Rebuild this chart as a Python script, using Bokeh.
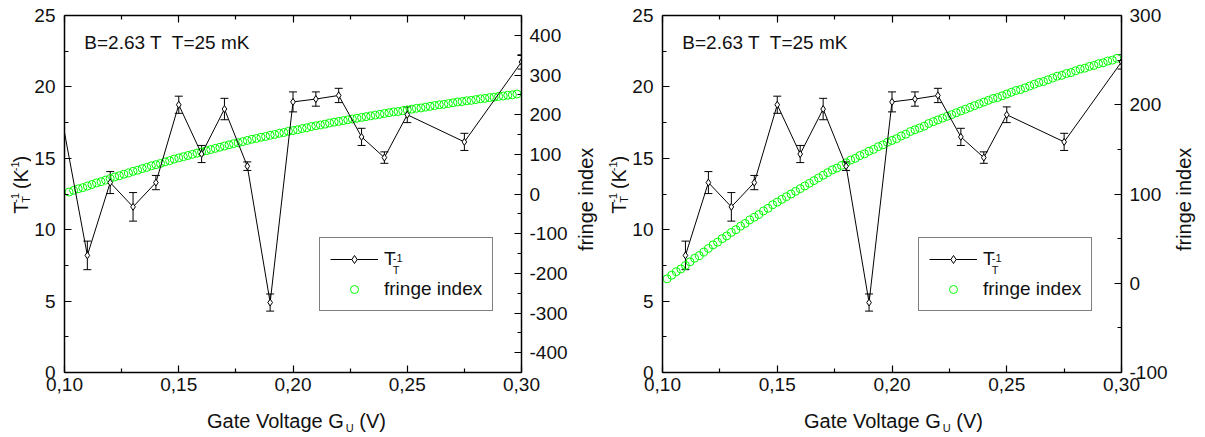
import math
from bokeh.plotting import figure
from bokeh.models import (Range1d, LinearAxis, FixedTicker, CustomJSTickFormatter, Grid,
                          ColumnDataSource, Whisker, TeeHead, Label, Legend, LegendItem)
from bokeh.layouts import row, column
from bokeh.embed import file_html
from bokeh.resources import INLINE

# ---------------- data ----------------
gate_voltage = [0.11, 0.12, 0.13, 0.14, 0.15, 0.16, 0.17, 0.18, 0.19, 0.20,
                0.21, 0.22, 0.23, 0.24, 0.25, 0.275, 0.30]
inv_temp = [8.2, 13.3, 11.6, 13.3, 18.75, 15.3, 18.45, 14.45, 4.9, 18.95,
            19.15, 19.4, 16.5, 15.05, 18.05, 16.15, 21.75]
inv_temp_err = [1.0, 0.77, 1.0, 0.5, 0.6, 0.6, 0.75, 0.3, 0.6, 0.7,
                0.5, 0.5, 0.6, 0.4, 0.55, 0.6, 0.5]
# left panel: the curve enters from a point outside the window
lead_in_voltage = [0.10, 0.11]
lead_in_value = [16.8, 8.2]

fringe_start = 0.102
fringe_step = 0.002
fringe_index = [5, 9, 13, 16, 20, 24, 28, 31, 35, 39,
                43, 46, 50, 53, 57, 60, 64, 67, 71, 74,
                77, 81, 84, 88, 91, 94, 97, 100, 103, 106,
                109, 112, 115, 118, 121, 124, 127, 129, 132, 135,
                138, 140, 143, 145, 148, 150, 153, 155, 158, 160,
                162, 165, 167, 170, 172, 174, 176, 179, 181, 183,
                185, 187, 189, 191, 193, 195, 197, 199, 201, 203,
                205, 207, 208, 210, 212, 214, 216, 217, 219, 221,
                223, 225, 226, 228, 230, 232, 233, 235, 236, 238,
                240, 241, 243, 244, 246, 247, 249, 250, 252]
fringe_voltage = [round(fringe_start + fringe_step * i, 3) for i in range(len(fringe_index))]

x_ticks = [0.10, 0.15, 0.20, 0.25, 0.30]
x_minor = [0.125, 0.175, 0.225, 0.275]
x_tick_labels = ["0,10", "0,15", "0,20", "0,25", "0,30"]
y_ticks = [0, 5, 10, 15, 20, 25]
y_minor = [2.5, 7.5, 12.5, 17.5, 22.5]
y_tick_labels = ["0", "5", "10", "15", "20", "25"]
fr1_ticks = [-400, -300, -200, -100, 0, 100, 200, 300, 400]
fr1_minor = [-450, -350, -250, -150, -50, 50, 150, 250, 350, 450]
fr1_labels = ["-400", "-300", "-200", "-100", "0", "100", "200", "300", "400"]
fr2_ticks = [-100, 0, 100, 200, 300]
fr2_minor = [-50, 50, 150, 250]
fr2_labels = ["-100", "0", "100", "200", "300"]

annotation_text = "B=2.63 T \u00a0T=25 mK"

# ---------------- style ----------------
FONT = "Liberation Sans"
FS = 19        # tick labels, legend, annotation
TS = 20        # axis titles
SMALL = 11     # sub/superscripts
GREEN = "#00FF00"
INK = "#111111"

AW = {' ': 278, '(': 333, ')': 333, '-': 333, '1': 556, 'K': 667, 'T': 611,
      'G': 778, 'U': 722, 'V': 667, 'a': 556, 'e': 556, 't': 278, 'o': 556,
      'l': 222, 'g': 556}


def tw(s, size):
    return sum(AW.get(c, 556) for c in s) * size / 1000.0


def fmt(tick_values, tick_labels):
    return CustomJSTickFormatter(args=dict(tv=tick_values, tl=tick_labels), code="""
        let best = 0;
        for (let i = 0; i < tv.length; i++) {
            if (Math.abs(tv[i] - tick) < Math.abs(tv[best] - tick)) best = i;
        }
        return tl[best];
    """)


def style_axis(ax, show_labels=True, standoff=8):
    ax.axis_line_width = 1.5
    ax.axis_line_color = "black"
    ax.major_tick_in = 7
    ax.major_tick_out = 0
    ax.minor_tick_in = 4
    ax.minor_tick_out = 0
    ax.major_tick_line_color = "black"
    ax.minor_tick_line_color = "black"
    ax.major_tick_line_width = 1.2
    ax.minor_tick_line_width = 1.2
    ax.major_label_text_font = FONT
    ax.major_label_text_color = INK
    ax.major_label_text_font_size = f"{FS}px"
    ax.major_label_standoff = standoff
    if not show_labels:
        ax.formatter = CustomJSTickFormatter(code="return ''")
        ax.major_label_standoff = 0


def bare(f):
    f.outline_line_color = None
    f.background_fill_color = "white"
    f.border_fill_color = "white"
    for r in list(f.center):
        if isinstance(r, Grid):
            r.visible = False


class Geom:
    def __init__(self, fl, fr, ft, fb, x0, x1, y0, y1):
        self.fl, self.fr, self.ft, self.fb = fl, fr, ft, fb
        self.x0, self.x1, self.y0, self.y1 = x0, x1, y0, y1

    def data(self, px, py):
        x = self.x0 + (px - self.fl) / (self.fr - self.fl) * (self.x1 - self.x0)
        y = self.y0 + (self.fb - py) / (self.fb - self.ft) * (self.y1 - self.y0)
        return x, y


def label(x, y, text, size, align="left", angle=0.0):
    return Label(x=x, y=y, text=text, text_font=FONT, text_font_size=f"{size}px",
                 text_color=INK, text_align=align, text_baseline="middle", angle=angle)


def text_fig(left, top, width, height, entries):
    """a small figure whose frame is its whole canvas; data units == page pixels"""
    f = figure(width=width, height=height, output_backend="svg", toolbar_location=None,
               x_range=Range1d(left, left + width), y_range=Range1d(top + height, top),
               x_axis_location=None, y_axis_location=None,
               min_border_left=0, min_border_right=0, min_border_top=0, min_border_bottom=0)
    bare(f)
    for e in entries:
        f.add_layout(label(*e))
    return f


def y_title_entries(cx, cy):
    groups = [[("T", TS, 0)],
              [("T", SMALL, 5), ("-1", SMALL, -6)],
              [(" ", TS, 0)],
              [("(K", TS, 0)],
              [("-1", SMALL, -6)],
              [(")", TS, 0)]]
    total = sum(max(tw(t, s) for t, s, _ in g) for g in groups)
    pos = cy + total / 2
    out = []
    for g in groups:
        adv = 0
        for t, s, sh in g:
            if t.strip():
                out.append((cx + sh, pos, t, s, "left", math.pi / 2))
            adv = max(adv, tw(t, s))
        pos -= adv
    return out


def x_title_entries(cx, cy):
    w_main = tw("Gate Voltage G", TS)
    w_sub = tw("U", SMALL)
    w_tail = tw(" (V)", TS)
    start = cx - (w_main + 1 + w_sub + w_tail) / 2
    return [(start, cy, "Gate Voltage G", TS, "left", 0.0),
            (start + w_main + 1, cy + 7, "U", SMALL, "left", 0.0),
            (start + w_main + 1 + w_sub + tw(" ", TS), cy, "(V)", TS, "left", 0.0)]


def make_main(width, bl, br, g, fr_range, fr_ticks, fr_minor, fr_labels, lead_in, legend_loc):
    p = figure(width=width, height=400, output_backend="svg", toolbar_location=None,
               x_range=Range1d(0.10, 0.30), y_range=Range1d(0, 25),
               x_axis_location=None, y_axis_location=None,
               min_border_left=bl, min_border_right=br, min_border_top=15, min_border_bottom=28)
    p.extra_y_ranges = {"fringe": Range1d(*fr_range)}
    bare(p)

    bottom = LinearAxis(ticker=FixedTicker(ticks=x_ticks, minor_ticks=x_minor),
                        formatter=fmt(x_ticks, x_tick_labels))
    top = LinearAxis(ticker=FixedTicker(ticks=x_ticks, minor_ticks=x_minor))
    left = LinearAxis(ticker=FixedTicker(ticks=y_ticks, minor_ticks=y_minor),
                      formatter=fmt(y_ticks, y_tick_labels))
    right = LinearAxis(y_range_name="fringe",
                       ticker=FixedTicker(ticks=fr_ticks, minor_ticks=fr_minor),
                       formatter=fmt(fr_ticks, fr_labels))
    style_axis(bottom, standoff=5)
    style_axis(top, False)
    style_axis(left, standoff=9)
    style_axis(right, standoff=8)
    p.add_layout(bottom, "below")
    p.add_layout(top, "above")
    p.add_layout(left, "left")
    p.add_layout(right, "right")

    # fringe index
    fsrc = ColumnDataSource(dict(x=fringe_voltage, y=fringe_index))
    fr_r = p.scatter("x", "y", source=fsrc, y_range_name="fringe", marker="circle", size=8,
                     fill_color=None, line_color=GREEN, line_width=1)

    # inverse temperature
    lower = [v - e for v, e in zip(inv_temp, inv_temp_err)]
    upper = [v + e for v, e in zip(inv_temp, inv_temp_err)]
    src = ColumnDataSource(dict(x=gate_voltage, y=inv_temp, lower=lower, upper=upper))
    if lead_in:
        p.line(lead_in_voltage, lead_in_value, line_color="black", line_width=1)
    line_r = p.line("x", "y", source=src, line_color="black", line_width=1)
    p.add_layout(Whisker(source=src, base="x", lower="lower", upper="upper",
                         line_color="black", line_width=1,
                         upper_head=TeeHead(size=8, line_color="black", line_width=1),
                         lower_head=TeeHead(size=8, line_color="black", line_width=1)))
    mark_r = p.scatter("x", "y", source=src, marker="diamond", size=7,
                       fill_color="white", line_color="black", line_width=1)

    legend = Legend(items=[LegendItem(label="T", renderers=[line_r, mark_r]),
                           LegendItem(label="fringe index", renderers=[fr_r])],
                    location=legend_loc, padding=10, spacing=8, margin=0,
                    glyph_width=48, glyph_height=20, label_height=20, label_standoff=6,
                    label_text_font=FONT, label_text_font_size=f"{FS}px",
                    label_text_color=INK, border_line_color="black", border_line_width=1,
                    background_fill_color="white", background_fill_alpha=0.0)
    p.add_layout(legend)

    # legend label sub/superscript
    lx = g.fl + legend_loc[0] + 10 + 48 + 6 + tw("T", FS) + 0.5
    ly = g.fb - legend_loc[1] - 68 + 20
    x, y = g.data(lx, ly + 6)
    p.add_layout(label(x, y, "T", SMALL))
    x, y = g.data(lx, ly - 6)
    p.add_layout(label(x, y, "-1", SMALL))

    # annotation
    x, y = g.data(g.fl + 20, 42)
    p.add_layout(label(x, y, annotation_text, FS))
    return p


# ---------------- left panel (page x 0..600) ----------------
g1 = Geom(62, 523, 15, 372, 0.10, 0.30, 0, 25)
p1 = make_main(539, 31, 47, g1, (-450, 450), fr1_ticks, fr1_minor, fr1_labels, True, (255, 61))
yl1 = text_fig(0, 0, 31, 400, y_title_entries(20, 190))
fl1 = text_fig(570, 0, 30, 400, [(585, 206, "fringe index", TS, "center", math.pi / 2)])
xl1 = text_fig(0, 400, 600, 37, x_title_entries(296, 420))
panel1 = column(row(yl1, p1, fl1), xl1)

# ---------------- right panel (page x 600..1205) ----------------
g2 = Geom(659, 1122, 15, 372, 0.10, 0.30, 0, 25)
p2 = make_main(541, 30, 48, g2, (-100, 300), fr2_ticks, fr2_minor, fr2_labels, False, (256, 61))
yl2 = text_fig(600, 0, 29, 400, y_title_entries(618, 190))
fl2 = text_fig(1170, 0, 35, 400, [(1183, 206, "fringe index", TS, "center", math.pi / 2)])
xl2 = text_fig(600, 400, 605, 37, x_title_entries(893, 420))
panel2 = column(row(yl2, p2, fl2), xl2)

layout = row(panel1, panel2)
open("out.html", "w").write(file_html(layout, INLINE))
